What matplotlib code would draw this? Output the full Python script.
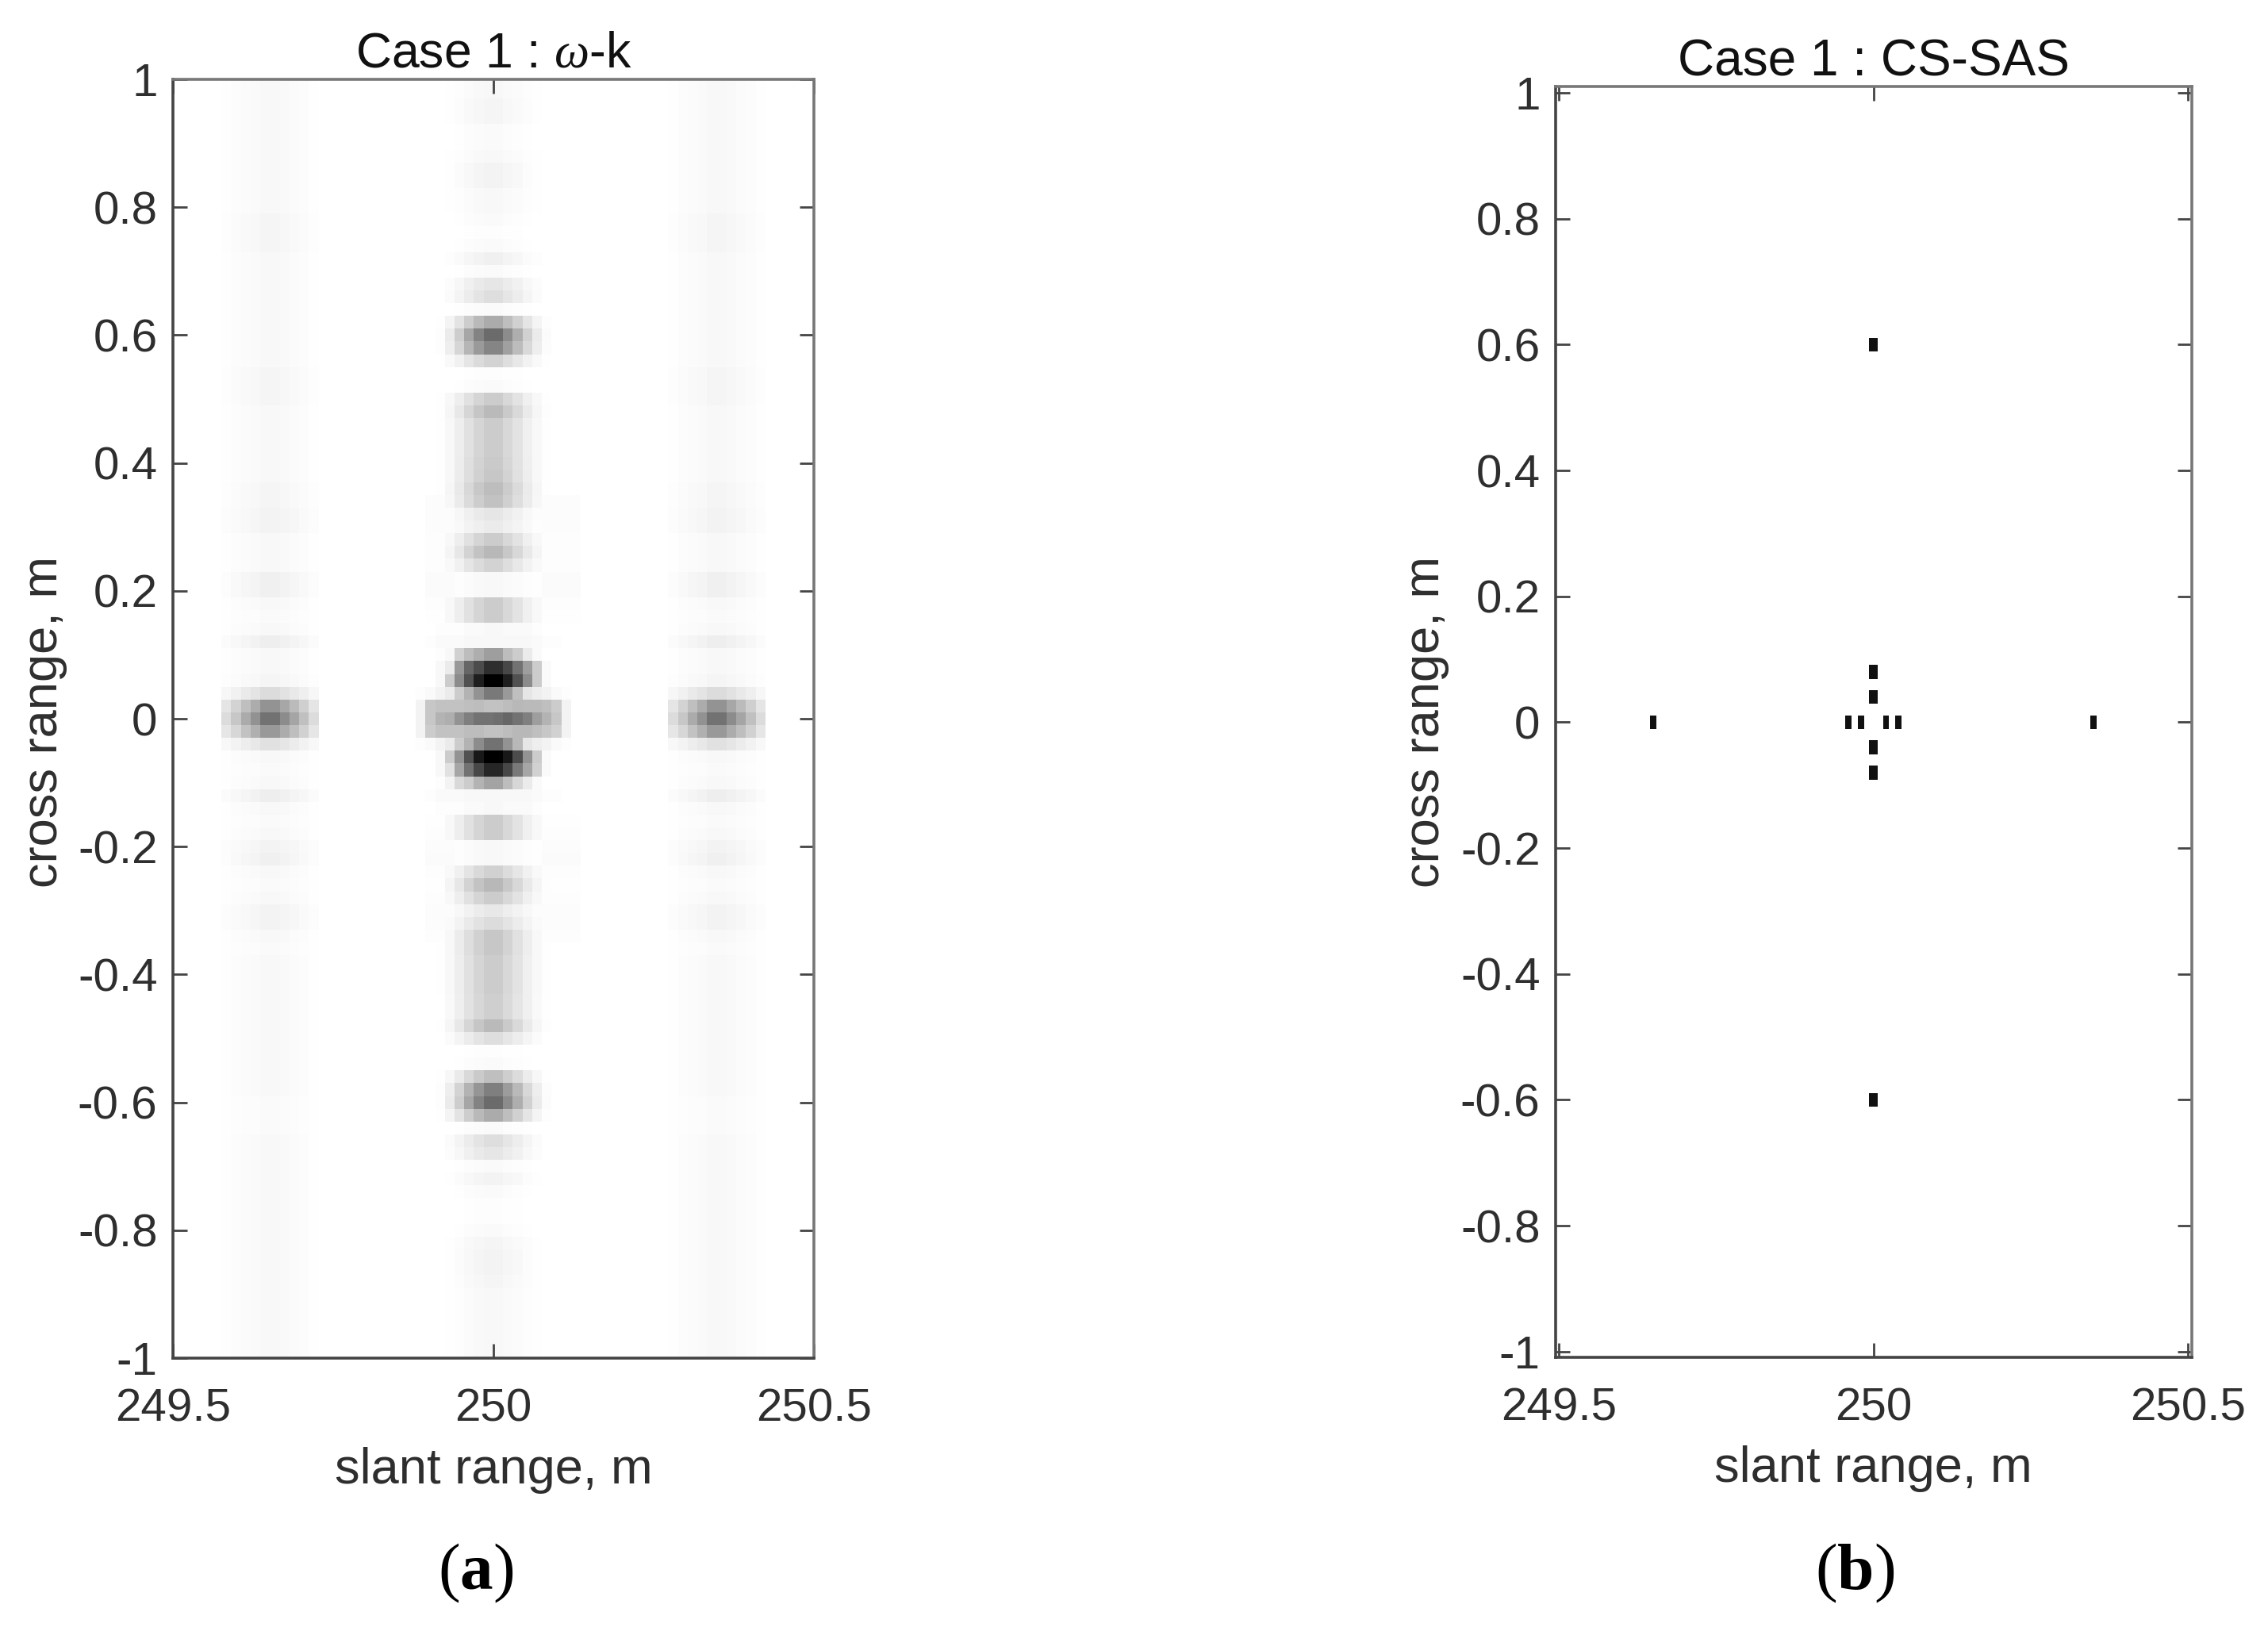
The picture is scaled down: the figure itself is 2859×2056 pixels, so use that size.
import numpy as np
import matplotlib
matplotlib.use("Agg")
import matplotlib.pyplot as plt

W, H = 2859, 2056
plt.rcParams['font.family'] = ['Liberation Sans', 'DejaVu Sans']
plt.rcParams['axes.unicode_minus'] = False
plt.rcParams['mathtext.fontset'] = 'custom'
plt.rcParams['mathtext.rm'] = 'Liberation Serif'
plt.rcParams['mathtext.it'] = 'Liberation Serif:italic'
plt.rcParams['mathtext.bf'] = 'Liberation Serif:bold'

# Tick labels
x_ticks = [249.5, 250, 250.5]
x_tick_labels = ['249.5', '250', '250.5']
y_ticks = [1, 0.8, 0.6, 0.4, 0.2, 0, -0.2, -0.4, -0.6, -0.8, -1]
y_tick_labels = ['1', '0.8', '0.6', '0.4', '0.2', '0', '-0.2', '-0.4', '-0.6', '-0.8', '-1']

# omega-k image, darkness (0 white, 1 black)
# centre column strength, rows y = 1.00 ... 0.16
center_peak_top = [.03, .03, .04, .04, .02, .02, .03, .05, .05, .03,
                   .03, .02, .01, .02, .06, .02, .10, .13, .02, .33,
                   .58, .48, .17, .01, .02, .20, .27, .20, .20, .20,
                   .21, .22, .26, .24, .10, .08, .20, .28, .17, .03,
                   .03, .20, .20]
# rows y = -0.16 ... -1.00
center_peak_bottom = [.20, .20, .03, .03, .18, .28, .20, .09, .14, .22,
                      .22, .20, .20, .20, .19, .19, .27, .13, .01, .02,
                      .25, .50, .58, .33, .02, .13, .10, .02, .05, .02,
                      .01, .01, .02, .04, .05, .05, .04, .03, .03, .03,
                      .03, .03, .03]
center_profile = [0, 0, .02, .14, .34, .60, .83, 1, 1, .78, .55, .31, .14, .03, 0, 0]

# centre of the image, rows y = 0.14 ... -0.14, 16 columns round 250
center_table = [
    [0, 0, .01, .01, .01, .02, .02, .03, .03, .02, .02, .02, .01, 0, 0, 0],
    [0, .01, .02, .02, .02, .03, .03, .03, .03, .03, .03, .03, .02, .01, .01, 0],
    [0, 0, .01, .03, .18, .26, .32, .38, .38, .26, .20, .08, .02, 0, 0, 0],
    [0, 0, .03, .08, .40, .60, .70, .82, .82, .72, .55, .38, .20, .02, 0, 0],
    [0, 0, .03, .20, .45, .68, .88, 1, 1, .88, .68, .45, .20, .02, 0, 0],
    [.01, .02, .05, .08, .20, .30, .42, .52, .52, .40, .25, .10, .07, .05, .02, .01],
    [.05, .22, .24, .24, .24, .25, .26, .24, .24, .26, .28, .27, .27, .25, .20, .05],
    [.05, .22, .30, .32, .42, .50, .55, .55, .57, .60, .55, .50, .38, .30, .22, .05],
    [.05, .20, .24, .24, .24, .26, .26, .24, .24, .26, .28, .28, .25, .22, .18, .05],
    [.01, .02, .05, .08, .20, .30, .45, .55, .55, .42, .28, .10, .07, .05, .02, .01],
    [0, 0, .03, .20, .42, .68, .90, 1, 1, .90, .70, .42, .20, .02, 0, 0],
    [0, 0, .03, .12, .35, .55, .72, .85, .85, .72, .52, .35, .18, .02, 0, 0],
    [0, 0, .01, .05, .15, .20, .30, .36, .36, .26, .16, .08, .02, 0, 0, 0],
    [0, .01, .02, .02, .02, .03, .03, .03, .03, .03, .03, .03, .02, .01, .01, 0],
    [0, 0, .01, .01, .01, .02, .02, .03, .03, .02, .02, .02, .01, 0, 0, 0],
]

# side columns (249.65 and 250.35) strength, rows y = 1.00 ... -1.00
side_peak = [.03, .03, .03, .03, .03, .03, .03, .03, .03, .03,
             .03, .04, .04, .04, .03, .03, .03, .03, .03, .03,
             .03, .03, .03, .04, .04, .04, .03, .03, .03, .03,
             .03, .03, .04, .04, .05, .05, .03, .03, .03, .06,
             .06, .03, .02, .03, .07, .03, .03, .04, .14, .42,
             .55,
             .40, .12, .03, .02, .03, .07, .03, .02, .03, .05,
             .06, .03, .02, .03, .05, .05, .03, .02, .03, .03,
             .03, .03, .03, .03, .03, .03, .03, .03, .03, .02,
             .02, .02, .03, .03, .03, .03, .03, .03, .03, .03,
             .03, .03, .03, .03, .03, .03, .03, .03, .03, .03]
side_profile = [.25, .40, .60, .78, 1, 1, .82, .64, .45, .25]

# CS-SAS point targets
target_x = [249.65, 250.35, 249.96, 249.98, 250.02, 250.04, 250, 250, 250, 250, 250, 250]
target_y = [0, 0, 0, 0, 0, 0, 0.08, 0.04, -0.04, -0.08, 0.6, -0.6]
target_w = [.010, .010, .010, .010, .010, .010, .013, .013, .013, .013, .013, .013]

# Build the image
n_rows, n_cols = 101, 66
image = np.zeros((n_rows, n_cols))
center_rows = center_peak_top + [0] * 15 + center_peak_bottom
for i in range(n_rows):
    image[i, 25:41] = center_rows[i] * np.array(center_profile)
    image[i, 5:15] = side_peak[i] * np.array(side_profile)
    image[i, 51:61] = side_peak[i] * np.array(side_profile)
    # faint skirts beside the centre column, only near the middle rows
    if 7 < abs(i - 50) < 18:
        for j in [26, 27, 28, 38, 39, 40, 41]:
            image[i, j] = max(image[i, j], side_peak[i] * 0.3)
image[43:58, 25:41] = np.array(center_table)


def make_axes(x0, x1, y0, y1):
    ax = plt.gcf().add_axes([x0 / W, 1 - y1 / H, (x1 - x0) / W, (y1 - y0) / H])
    ax.set_xticks(x_ticks)
    ax.set_xticklabels(x_tick_labels)
    ax.set_yticks(y_ticks)
    ax.set_yticklabels(y_tick_labels)
    ax.tick_params(direction='in', top=True, right=True, length=13, width=2,
                   labelsize=42, color='#444444', labelcolor='#2e2e2e')
    ax.tick_params(axis='x', pad=27)
    ax.tick_params(axis='y', pad=14)
    for side, col in [('left', '#444444'), ('bottom', '#444444'), ('top', '#777777'), ('right', '#777777')]:
        ax.spines[side].set_linewidth(2.6)
        ax.spines[side].set_color(col)
    return ax


def add_labels(ax, xlabel_x, xlabel_y, ylabel_x, ylabel_y):
    ax.set_xlabel('slant range, m', fontsize=45.5, color='#2e2e2e', va='baseline')
    ax.xaxis.set_label_coords(xlabel_x / W, 1 - xlabel_y / H, transform=plt.gcf().transFigure)
    ax.set_ylabel('cross range, m', fontsize=45.5, color='#2e2e2e', va='baseline')
    ax.yaxis.set_label_coords(ylabel_x / W, 1 - ylabel_y / H, transform=plt.gcf().transFigure)


fig = plt.figure(figsize=(W / 100, H / 100), dpi=100)

# (a) omega-k
ax1 = make_axes(218, 1026, 100, 1712)
ax1.imshow(image, cmap='gray_r', vmin=0, vmax=1, aspect='auto', interpolation='nearest',
           extent=[249.5, 250.5, -1.01, 1.01])
ax1.set_xlim(249.5, 250.5)
ax1.set_ylim(-1, 1)
ax1.set_title('Case 1 : $\\omega$-k', fontsize=45, pad=11, color='#111111')
add_labels(ax1, 622, 1870, 72, 910)

# (b) CS-SAS
ax2 = make_axes(1961, 2763, 109, 1711)
ax2.bar(target_x, height=0.022, width=target_w, bottom=np.array(target_y) - 0.011, color='#111111')
ax2.set_xlim(249.495, 250.506)
ax2.set_ylim(-1.009, 1.010)
ax2.set_title('Case 1 : CS-SAS', fontsize=46, pad=10, color='#111111')
add_labels(ax2, 2361, 1868, 1814, 910)

fig.text(600 / W, 1 - 2003 / H, '($\\mathbf{a}$)', fontsize=60, ha='center', va='baseline',
         family='Liberation Serif', color='black')
fig.text(2338 / W, 1 - 2003 / H, '($\\mathbf{b}$)', fontsize=60, ha='center', va='baseline',
         family='Liberation Serif', color='black')

fig.savefig('out.png', dpi=100)
